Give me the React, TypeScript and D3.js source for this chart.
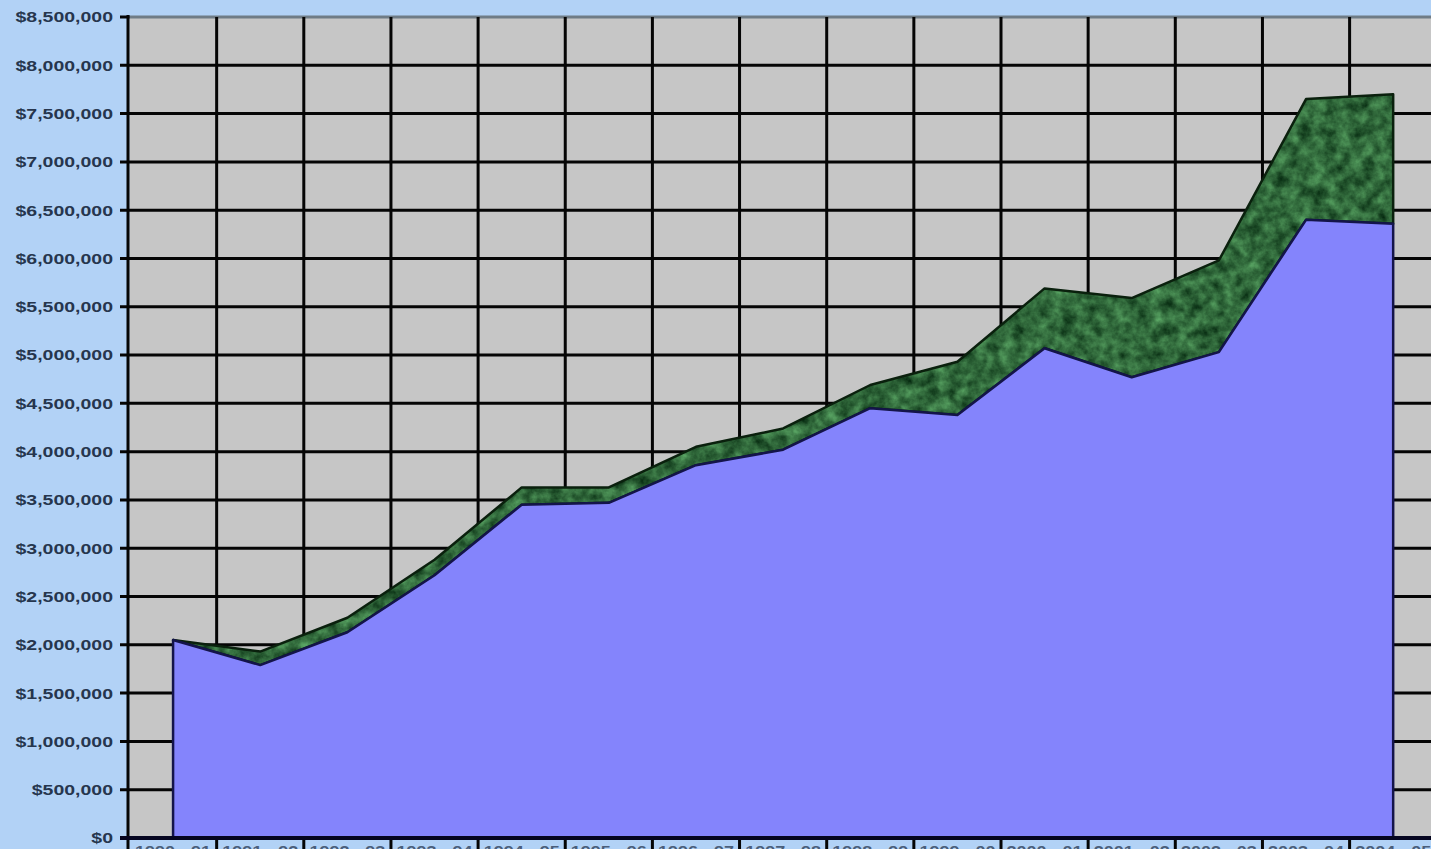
import { useEffect, useRef } from 'react';
import * as d3 from 'd3';

// categories (labels are cut off at the bottom of the reference)
const periods = [
  '1990 - 91', '1991 - 92', '1992 - 93', '1993 - 94', '1994 - 95',
  '1995 - 96', '1996 - 97', '1997 - 98', '1998 - 99', '1999 - 00',
  '2000 - 01', '2001 - 02', '2002 - 03', '2003 - 04', '2004 - 05',
];

// lower series (blue)
const baseValues = [
  2050000, 1790000, 2130000, 2720000, 3450000,
  3470000, 3860000, 4020000, 4450000, 4380000,
  5070000, 4770000, 5030000, 6400000, 6360000,
];

// upper series (green), stacked on top of the blue one
const extraValues = [
  0, 140000, 150000, 160000, 180000,
  160000, 190000, 220000, 240000, 550000,
  620000, 820000, 950000, 1250000, 1340000,
];

const yTicks = d3.range(0, 8500001, 500000);

interface Row {
  label: string;
  base: number;
  extra: number;
}

const rows: Row[] = periods.map((p, i) => ({ label: p, base: baseValues[i], extra: extraValues[i] }));

const W = 1431;
const H = 849;

export default function App() {
  const ref = useRef<SVGSVGElement | null>(null);

  useEffect(() => {
    const svg = d3.select(ref.current);
    svg.selectAll('*').remove();

    const left = 129.5;
    const step = 87.15;

    const x = d3.scaleBand<string>()
      .domain(periods)
      .range([left, left + step * periods.length])
      .padding(0);

    const y = d3.scaleLinear()
      .domain([0, 8500000])
      .range([838, 17]);

    const cx = (d: Row) => (x(d.label) as number) + x.bandwidth() / 2;

    // background
    svg.append('rect').attr('width', W).attr('height', H).attr('fill', '#b2d2f6');

    // marble texture for the green area
    const defs = svg.append('defs');
    const f = defs.append('filter').attr('id', 'marble')
      .attr('x', 0).attr('y', 0).attr('width', '100%').attr('height', '100%')
      .attr('color-interpolation-filters', 'sRGB');
    f.append('feTurbulence')
      .attr('type', 'fractalNoise')
      .attr('baseFrequency', 0.08)
      .attr('numOctaves', 4)
      .attr('seed', 7)
      .attr('result', 'noise');
    f.append('feColorMatrix')
      .attr('in', 'noise')
      .attr('type', 'matrix')
      .attr('values', '0.42 0 0 0 -0.02  0.62 0 0 0 0.1  0.42 0 0 0 0.02  0 0 0 0 1')
      .attr('result', 'col');
    f.append('feComposite').attr('in', 'col').attr('in2', 'SourceGraphic').attr('operator', 'in');

    // plot area
    svg.append('rect')
      .attr('x', left).attr('y', y(8500000))
      .attr('width', W - left).attr('height', y(0) - y(8500000))
      .attr('fill', '#c6c6c6');

    // horizontal grid
    svg.append('g')
      .selectAll('line')
      .data(yTicks.filter(t => t > 0 && t < 8500000))
      .enter().append('line')
      .attr('x1', 120).attr('x2', W)
      .attr('y1', d => y(d)).attr('y2', d => y(d))
      .attr('stroke', '#050505').attr('stroke-width', 3);

    // top border
    svg.append('line')
      .attr('x1', left).attr('x2', W)
      .attr('y1', y(8500000)).attr('y2', y(8500000))
      .attr('stroke', '#6f7c86').attr('stroke-width', 3);
    svg.append('line')
      .attr('x1', 120).attr('x2', left)
      .attr('y1', y(8500000)).attr('y2', y(8500000))
      .attr('stroke', '#050505').attr('stroke-width', 3);

    // vertical grid
    svg.append('g')
      .selectAll('line')
      .data(periods.slice(1))
      .enter().append('line')
      .attr('x1', d => x(d) as number).attr('x2', d => x(d) as number)
      .attr('y1', y(8500000)).attr('y2', H)
      .attr('stroke', '#050505').attr('stroke-width', 3);

    // stacked areas
    const areaExtra = d3.area<Row>()
      .x(cx)
      .y0(d => y(d.base))
      .y1(d => y(d.base + d.extra));

    const areaBase = d3.area<Row>()
      .x(cx)
      .y0(y(0))
      .y1(d => y(d.base));

    svg.append('path')
      .datum(rows)
      .attr('d', areaExtra)
      .attr('fill', '#2e6a3a')
      .attr('filter', 'url(#marble)');
    svg.append('path')
      .datum(rows)
      .attr('d', areaExtra)
      .attr('fill', 'none')
      .attr('stroke', '#0a200d')
      .attr('stroke-width', 2.5)
      .attr('stroke-linejoin', 'round');

    svg.append('path')
      .datum(rows)
      .attr('d', areaBase)
      .attr('fill', '#8484fc')
      .attr('stroke', '#14144a')
      .attr('stroke-width', 2.5)
      .attr('stroke-linejoin', 'round');

    // axes
    svg.append('line')
      .attr('x1', 128).attr('x2', 128)
      .attr('y1', y(8500000) - 2).attr('y2', H)
      .attr('stroke', '#050505').attr('stroke-width', 3);
    svg.append('line')
      .attr('x1', 120).attr('x2', W)
      .attr('y1', y(0)).attr('y2', y(0))
      .attr('stroke', '#050520').attr('stroke-width', 4);

    // y tick labels
    const fmt = d3.format('$,');
    svg.append('g')
      .attr('font-family', 'Liberation Sans, Arial, sans-serif')
      .attr('font-size', 15)
      .attr('font-weight', 'bold')
      .attr('fill', '#26364e')
      .selectAll('text')
      .data(yTicks)
      .enter().append('text')
      .attr('transform', d => `translate(113,${y(d)}) scale(1.3,1)`)
      .attr('dy', '0.36em')
      .attr('text-anchor', 'end')
      .text(d => fmt(d));

    // x labels (mostly cut off by the bottom edge, as in the reference)
    svg.append('g')
      .attr('font-family', 'Liberation Sans, Arial, sans-serif')
      .attr('font-size', 15)
      .attr('font-weight', 'bold')
      .attr('fill', '#4a5e7a')
      .selectAll('text')
      .data(rows)
      .enter().append('text')
      .attr('transform', d => `translate(${cx(d)},856) scale(1.2,1)`)
      .attr('text-anchor', 'middle')
      .text(d => d.label);
  }, []);

  return (
    <div style={{ position: 'absolute', left: 0, top: 0, width: W, height: H, overflow: 'hidden' }}>
      <svg ref={ref} width={W} height={H} style={{ display: 'block' }}></svg>
    </div>
  );
}
